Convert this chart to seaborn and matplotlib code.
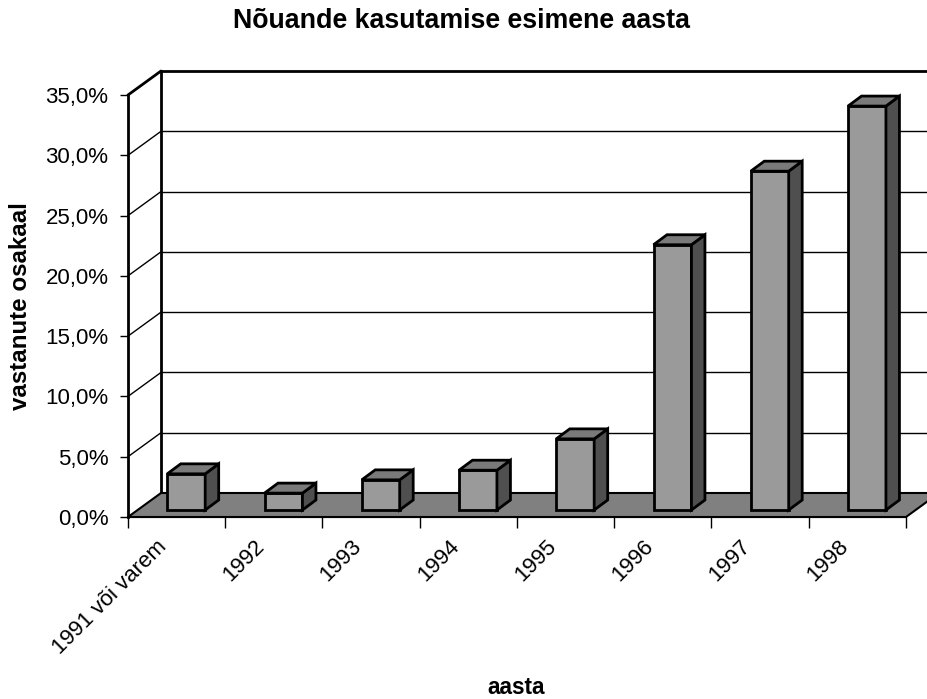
import numpy as np
import pandas as pd
import matplotlib
matplotlib.use("Agg")
import matplotlib.pyplot as plt
import matplotlib.transforms as mtransforms
from matplotlib.patches import Polygon
import seaborn as sns

# data (percent of respondents)
categories = ["1991 või varem", "1992", "1993", "1994", "1995", "1996", "1997", "1998"]
shares = [3.0, 1.4, 2.5, 3.3, 5.9, 22.0, 28.1, 33.5]
y_ticks = [0, 5, 10, 15, 20, 25, 30, 35]
y_tick_labels = ["0,0%", "5,0%", "10,0%", "15,0%", "20,0%", "25,0%", "30,0%", "35,0%"]

df = pd.DataFrame({"aasta": categories, "osakaal": shares})

sns.set_style("white")
plt.rcParams["font.family"] = ["Liberation Sans", "DejaVu Sans"]
plt.rcParams["text.color"] = "black"
plt.rcParams["xtick.color"] = "black"
plt.rcParams["ytick.color"] = "black"

W, H, DPI = 928, 699, 100
fig = plt.figure(figsize=(W / DPI, H / DPI), dpi=DPI)
# front plane of the fake 3d box
ax = fig.add_axes([128 / W, 1 - 517 / H, (906 - 128) / W, (517 - 95) / H])

# 3d offsets in pixels (up = positive)
wall_dx, wall_dy = 33, 24
bar_dx, bar_dy = 9.6, 7
depth_dx, depth_dy = 13.5, 10

sns.barplot(data=df, x="aasta", y="osakaal", width=0.39, color="#9a9a9a",
            saturation=1, edgecolor="black", linewidth=2, ax=ax)
ax.set_xlim(-0.5, len(categories) - 0.5)
ax.set_ylim(0, 35)
x_lo, x_hi = ax.get_xlim()


def disp(x, y, dx=0, dy=0):
    p = ax.transData.transform((x, y))
    return (p[0] + dx, p[1] + dy)


ident = mtransforms.IdentityTransform()
back = mtransforms.offset_copy(ax.transData, fig=fig, x=wall_dx, y=wall_dy, units="dots")

# back wall grid + frame
for yt in y_ticks[1:]:
    lw = 2 if yt == y_ticks[-1] else 1
    ax.plot([x_lo, x_hi + 1], [yt, yt], transform=back, color="black", lw=lw,
            clip_on=False, zorder=1)
ax.plot([x_lo, x_lo], [0, 35], transform=back, color="black", lw=2, clip_on=False, zorder=1)

# left wall diagonals
for yt in y_ticks[1:]:
    lw = 2 if yt == y_ticks[-1] else 1
    a = disp(x_lo, yt)
    b = disp(x_lo, yt, wall_dx, wall_dy)
    ax.plot([a[0], b[0]], [a[1], b[1]], transform=ident, color="black", lw=lw,
            clip_on=False, zorder=1)

# floor
floor = Polygon([disp(x_lo, 0), disp(x_hi, 0), disp(x_hi, 0, wall_dx, wall_dy),
                 disp(x_lo, 0, wall_dx, wall_dy)], closed=True, transform=ident,
                facecolor="#808080", edgecolor="black", lw=1.5, clip_on=False, zorder=3)
ax.add_patch(floor)

# bars: shift front faces back a little and add side and top faces
bar_tr = mtransforms.offset_copy(ax.transData, fig=fig, x=bar_dx, y=bar_dy, units="dots")
for p in list(ax.patches):
    if p is floor:
        continue
    p.set_transform(bar_tr)
    p.set_zorder(5)
    p.set_clip_on(False)
    x0, w, h = p.get_x(), p.get_width(), p.get_height()
    br = disp(x0 + w, 0, bar_dx, bar_dy)
    tr = disp(x0 + w, h, bar_dx, bar_dy)
    tl = disp(x0, h, bar_dx, bar_dy)
    side = Polygon([br, (br[0] + depth_dx, br[1] + depth_dy),
                    (tr[0] + depth_dx, tr[1] + depth_dy), tr],
                   transform=ident, facecolor="#4f4f4f", edgecolor="black", lw=2,
                   joinstyle="miter", clip_on=False, zorder=5)
    top = Polygon([tl, tr, (tr[0] + depth_dx, tr[1] + depth_dy),
                   (tl[0] + depth_dx, tl[1] + depth_dy)],
                  transform=ident, facecolor="#7a7a7a", edgecolor="black", lw=2,
                  joinstyle="miter", clip_on=False, zorder=5)
    ax.add_patch(side)
    ax.add_patch(top)

# axes, ticks
for s in ["top", "right"]:
    ax.spines[s].set_visible(False)
ax.spines["left"].set_linewidth(2)
ax.spines["left"].set_color("black")
ax.spines["bottom"].set_linewidth(1.5)
ax.spines["bottom"].set_color("black")
ax.spines["left"].set_zorder(6)

ax.set_yticks(y_ticks, y_tick_labels)
ax.tick_params(axis="y", left=True, length=6, width=1, pad=8, labelsize=16, color="black")
ax.set_xticks(range(len(categories)), categories)
ax.set_xticks(np.arange(len(categories) + 1) - 0.5, minor=True)
ax.tick_params(axis="x", which="major", bottom=True, length=0, pad=8, labelsize=16)
ax.tick_params(axis="x", which="minor", bottom=True, length=8, width=1, color="black")
label_shift = mtransforms.ScaledTranslation(-20 / DPI, -8 / DPI, fig.dpi_scale_trans)
for lab in ax.get_xticklabels():
    lab.set_rotation(45)
    lab.set_ha("right")
    lab.set_rotation_mode("anchor")
    lab.set_transform(lab.get_transform() + label_shift)
ax.set_xlabel("")
ax.set_ylabel("")

fig.text(462 / W, 1 - 21 / H, "Nõuande kasutamise esimene aasta", ha="center", va="center",
         fontsize=19.3, fontweight="bold")
fig.text(21 / W, 1 - 306 / H, "vastanute osakaal", ha="center", va="center", rotation=90,
         fontsize=17.4, fontweight="bold")
fig.text(516 / W, 1 - 688 / H, "aasta", ha="center", va="center", fontsize=16.3, fontweight="bold")

fig.savefig("out.png", dpi=DPI)
